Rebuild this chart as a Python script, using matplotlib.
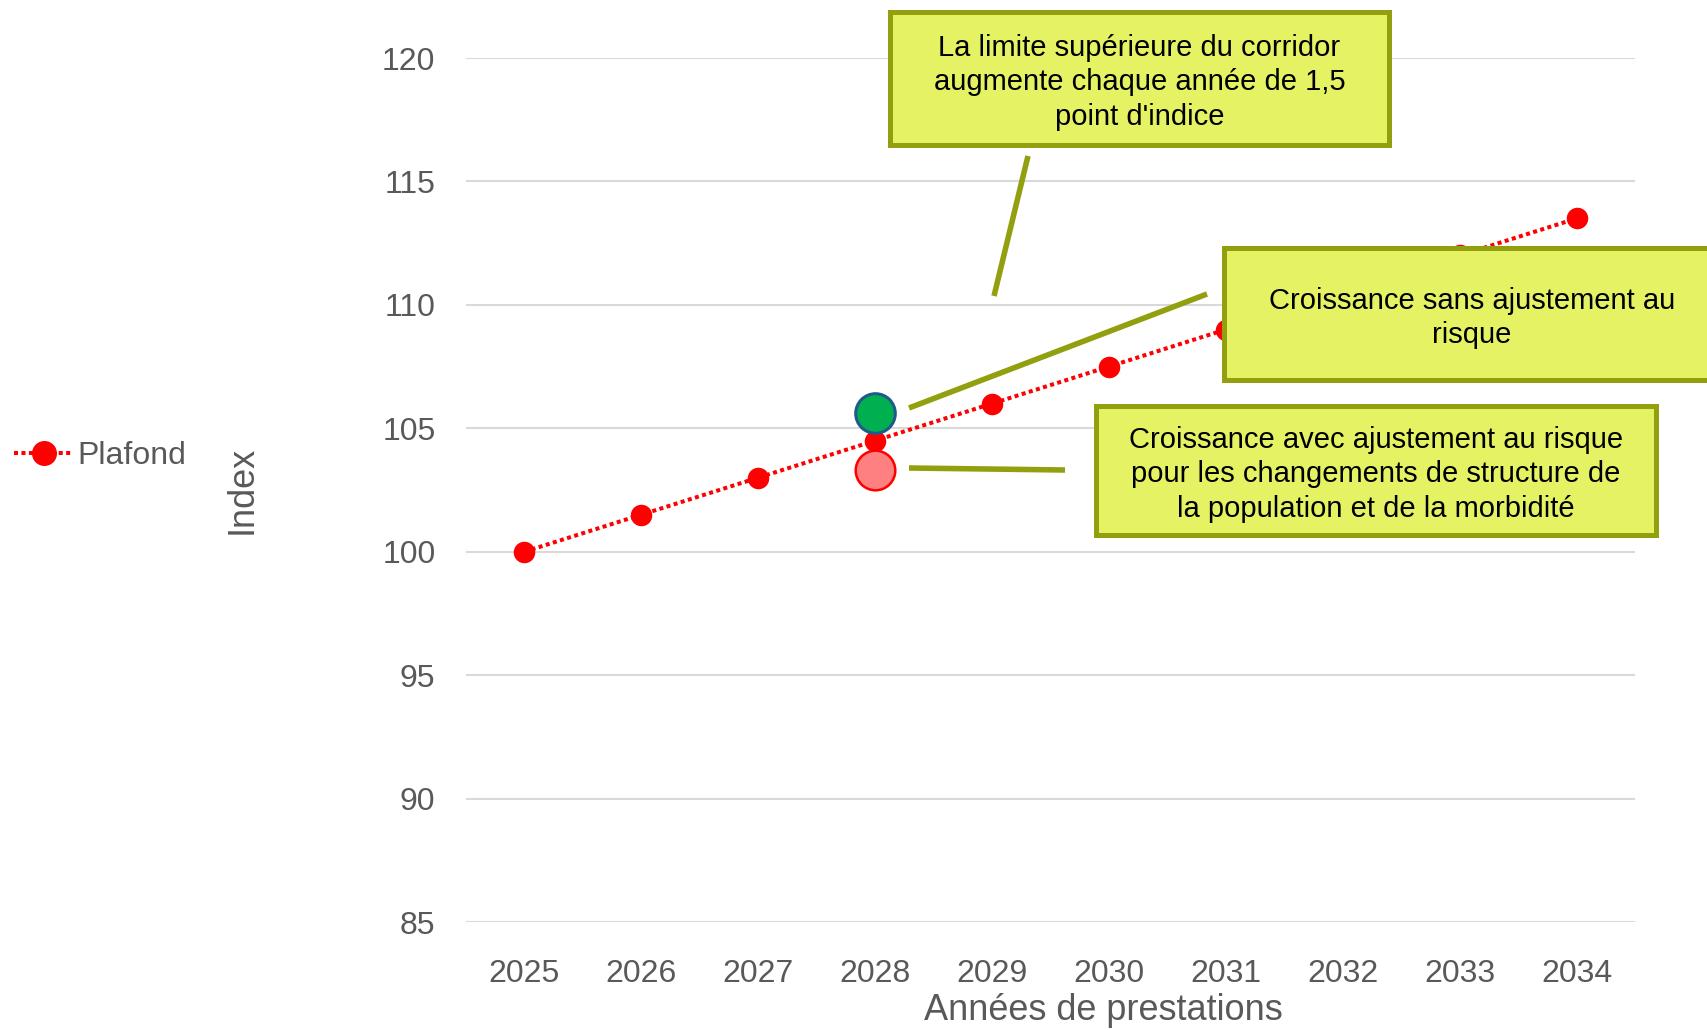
import matplotlib
matplotlib.use("Agg")
import matplotlib.pyplot as plt
from matplotlib.patches import Rectangle
from matplotlib.lines import Line2D

plt.rcParams["font.family"] = ["Liberation Sans", "DejaVu Sans"]

years = [2025, 2026, 2027, 2028, 2029, 2030, 2031, 2032, 2033, 2034]
plafond = [100, 101.5, 103, 104.5, 106, 107.5, 109, 110.5, 112, 113.5]
yticks = [85, 90, 95, 100, 105, 110, 115, 120]

year_sans = 2028
val_sans = 105.6   # croissance sans ajustement au risque
year_avec = 2028
val_avec = 103.3   # croissance avec ajustement au risque

note_top = "La limite supérieure du corridor\naugmente chaque année de 1,5\npoint d'indice"
note_sans = "Croissance sans ajustement au\nrisque"
note_avec = "Croissance avec ajustement au risque\npour les changements de structure de\nla population et de la morbidité"

W, H = 1708, 1030
RED = "#FF0000"
GREY = "#595959"
FILL = "#E4F263"
EDGE = "#92A00F"

fig = plt.figure(figsize=(W / 100, H / 100), dpi=100)


def fx(px):
    return px / W


def fy(py):
    # pixel rows counted from the top
    return 1 - py / H


ax = fig.add_axes([fx(466), fy(922), fx(1635) - fx(466), fy(58) - fy(922)])
ax.set_xlim(2024.5, 2034.5)
ax.set_ylim(85, 120)
ax.set_xticks(years)
ax.set_yticks(yticks)
ax.tick_params(length=0, labelsize=23, labelcolor=GREY)
ax.tick_params(axis="x", pad=27)
ax.tick_params(axis="y", pad=22)
ax.grid(axis="y", color="#D9D9D9", linewidth=1.5)
ax.set_axisbelow(True)
for s in ax.spines.values():
    s.set_visible(False)

ax.plot(years, plafond, color=RED, linestyle=(0, (1, 0.85)), linewidth=2.9,
        marker="o", markersize=15.5, markeredgewidth=0, zorder=3)
ax.plot([year_sans], [val_sans], "o", markersize=28.5, markerfacecolor="#00B050",
        markeredgecolor="#1F5B8A", markeredgewidth=2.2, zorder=4)
ax.plot([year_avec], [val_avec], "o", markersize=28.5, markerfacecolor="#FF8080",
        markeredgecolor=RED, markeredgewidth=1.8, zorder=5)

ax.set_xlabel("Années de prestations", fontsize=26, color=GREY, va="center")
ax.xaxis.set_label_coords(0.545, -0.103)
ax.set_ylabel("Index", fontsize=26, color=GREY, va="center")
ax.yaxis.set_label_coords(-0.1916, 0.5)

handle = Line2D([], [], color=RED, linestyle=(0, (1, 0.85)), linewidth=2.9,
                marker="o", markersize=18, markeredgewidth=0)
fig.legend([handle], ["Plafond"], loc="center left", bbox_to_anchor=(fx(14), fy(456)),
           frameon=False, fontsize=23, labelcolor=GREY, borderpad=0, borderaxespad=0,
           handlelength=1.85, handletextpad=0.12)

# leader lines from the notes to the points
for (x0, y0), (x1, y1) in [((1028, 156), (994, 296)),
                           ((909, 408), (1207, 294)),
                           ((909, 468), (1065, 470))]:
    fig.add_artist(Line2D([fx(x0), fx(x1)], [fy(y0), fy(y1)], color=EDGE,
                          linewidth=4, solid_capstyle="butt", zorder=6))

# note boxes
for (x0, y0, x1, y1), txt in [((890, 12, 1389, 145), note_top),
                              ((1224, 248, 1720, 380), note_sans),
                              ((1096, 406, 1656, 535), note_avec)]:
    fig.add_artist(Rectangle((fx(x0), fy(y1)), fx(x1) - fx(x0), fy(y0) - fy(y1),
                             facecolor=FILL, edgecolor=EDGE, linewidth=3.6,
                             transform=fig.transFigure, zorder=7))
    fig.text(fx((x0 + x1) / 2), fy((y0 + y1) / 2 + 4), txt, ha="center", va="center",
             fontsize=21, color="black", linespacing=1.3, zorder=8)

fig.savefig("out.png", dpi=100)
